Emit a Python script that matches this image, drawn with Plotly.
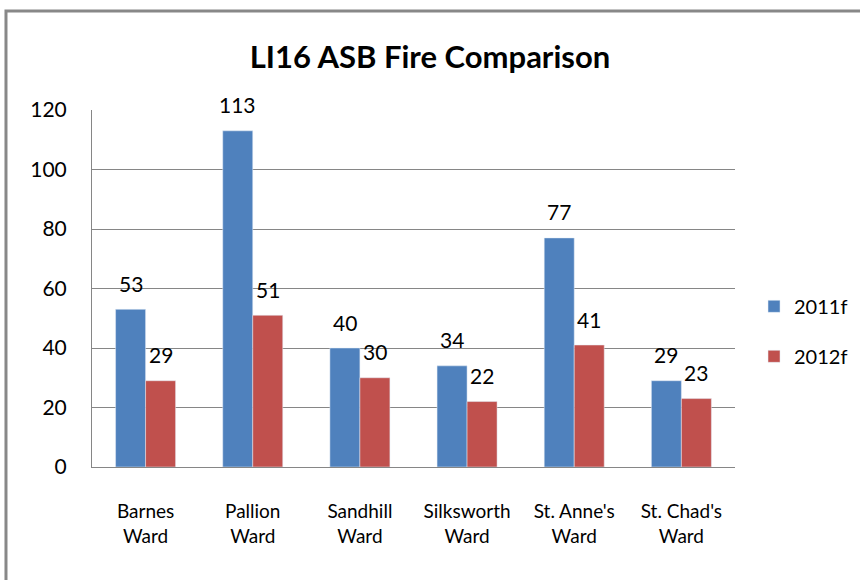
import plotly.graph_objects as go

categories = ["Barnes<br>Ward", "Pallion<br>Ward", "Sandhill<br>Ward", "Silksworth<br>Ward", "St. Anne's<br>Ward", "St. Chad's<br>Ward"]
series_2011 = [53, 113, 40, 34, 77, 29]
series_2012 = [29, 51, 30, 22, 41, 23]
y_ticks = [0, 20, 40, 60, 80, 100, 120]

FONT = "Liberation Sans Narrow, Lato, sans-serif"

fig = go.Figure()
fig.add_trace(go.Bar(x=categories, y=series_2011, name="2011f", marker_color="#4F81BD", legendgroup="a"))
fig.add_trace(go.Bar(x=categories, y=series_2012, name="2012f", marker_color="#C0504D", legendgroup="b"))

# data labels
for vals, shift in ((series_2011, -15), (series_2012, 15)):
    for c, v in zip(categories, vals):
        fig.add_annotation(x=c, y=v, text=str(v), showarrow=False, xshift=shift, yshift=26,
                           yanchor="middle", font=dict(size=21, family=FONT, color="#000000"))

fig.update_layout(
    width=860, height=580,
    margin=dict(l=92, r=0, t=110, b=113),
    paper_bgcolor="white", plot_bgcolor="white",
    font=dict(family=FONT, size=21, color="#000000"),
    title=dict(text="<b>LI16 ASB Fire Comparison</b>", x=0.5, xanchor="center", y=0.9017, yanchor="middle",
               font=dict(size=31, family=FONT, color="#000000")),
    barmode="group", bargap=0.44, bargroupgap=0,
    legend=dict(x=0.862, y=0.38, xanchor="left", yanchor="middle", traceorder="grouped",
                tracegroupgap=21, font=dict(size=20, family=FONT), bgcolor="rgba(0,0,0,0)"),
    showlegend=True,
)
fig.update_yaxes(range=[0, 120], tickvals=y_ticks, showgrid=True, gridcolor="#868686", gridwidth=1,
                 showline=True, linecolor="#868686", linewidth=1, zeroline=False, ticks="",
                 ticklabelstandoff=20)
fig.update_xaxes(domain=[0, 0.8372], showline=True, linecolor="#868686", linewidth=1, ticks="",
                 ticklabelstandoff=27, tickfont=dict(size=19, family=FONT))

fig.add_shape(type="rect", xref="paper", yref="paper", x0=-0.112, x1=1.3, y0=-0.4, y1=1.277,
              line=dict(color="#888888", width=3), fillcolor="rgba(0,0,0,0)", layer="above")

fig.write_html("out.html", config={"displayModeBar": False},
               post_script="document.body.style.margin='0px';document.body.style.overflow='hidden';")
